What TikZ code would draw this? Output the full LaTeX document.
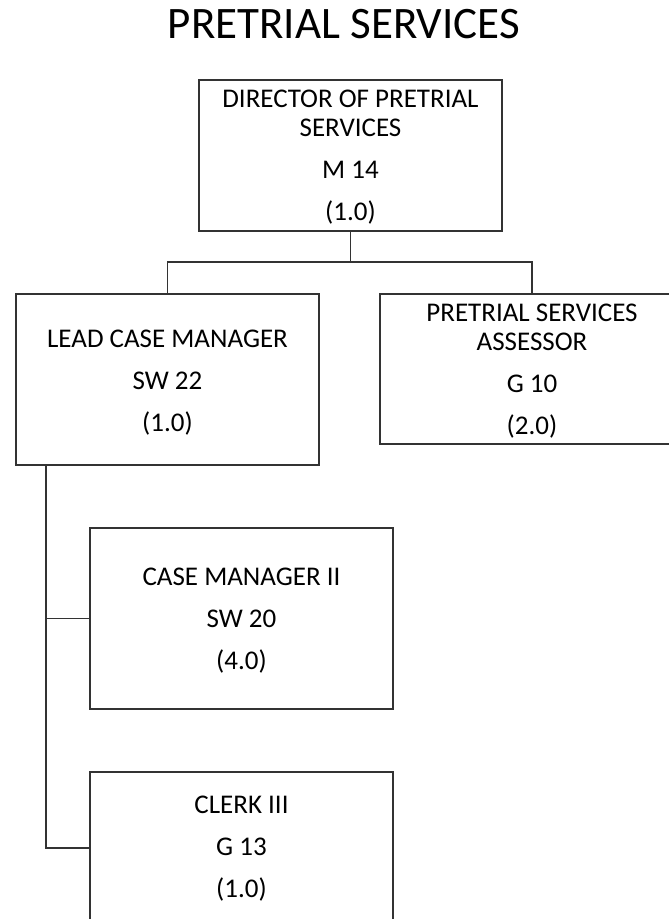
\documentclass[tikz,border=0pt]{standalone}
\usepackage{fontspec}
\setmainfont{Carlito}
\usetikzlibrary{calc}
\begin{document}
\begin{tikzpicture}[x=1pt,y=-1pt,
  box/.style={draw=black!80, line width=1.4pt, inner sep=0pt, outer sep=0pt, minimum width=303pt},
  lbl/.style={anchor=base, inner sep=0pt, outer sep=0pt, font=\fontsize{27}{29}\selectfont},
  wire/.style={draw=black!80, line width=1.4pt}]
\useasboundingbox (0,0) rectangle (669,919);
\clip (0,0) rectangle (669,919);
\fill[white] (0,0) rectangle (669,919);
% title
\node[anchor=base, inner sep=0pt, font=\fontsize{45}{50}\selectfont] (title) at (344,38) {PRETRIAL SERVICES};
% boxes
\node[box, minimum height=151pt] (b1) at (350.5,155.5) {};
\node[box, minimum height=171pt] (b2) at (167.5,379.5) {};
\node[box, minimum width=304pt, minimum height=150pt] (b3) at (532,369) {};
\node[box, minimum height=181pt] (b4) at (241.5,618.5) {};
\node[box, minimum height=152pt] (b5) at (241.5,848) {};
% texts
\node[lbl] (t1a) at (350.5,107) {DIRECTOR OF PRETRIAL};
\node[lbl] (t1b) at (350.5,136) {SERVICES};
\node[lbl] (t1c) at (350.5,178) {M 14};
\node[lbl] (t1d) at (350.5,220) {(1.0)};
\node[lbl] (t2a) at (167.5,347) {LEAD CASE MANAGER};
\node[lbl] (t2b) at (167.5,389) {SW 22};
\node[lbl] (t2c) at (167.5,431) {(1.0)};
\node[lbl] (t3a) at (532,321) {PRETRIAL SERVICES};
\node[lbl] (t3b) at (532,350) {ASSESSOR};
\node[lbl] (t3c) at (532,392) {G 10};
\node[lbl] (t3d) at (532,434) {(2.0)};
\node[lbl] (t4a) at (241.5,585) {CASE MANAGER II};
\node[lbl] (t4b) at (241.5,627) {SW 20};
\node[lbl] (t4c) at (241.5,669) {(4.0)};
\node[lbl] (t5a) at (241.5,813) {CLERK III};
\node[lbl] (t5b) at (241.5,855) {G 13};
\node[lbl] (t5c) at (241.5,897) {(1.0)};
% connectors
\draw[wire] (b1.south) -- ++(0,31) -| (b2.north);
\draw[wire] (b1.south) -- ++(0,31) -| (b3.north);
\coordinate (L) at ($(b2.south west)+(30,0)$);
\draw[wire] (L) |- (b4.west);
\draw[wire] (L) |- (b5.west);
\end{tikzpicture}
\end{document}
